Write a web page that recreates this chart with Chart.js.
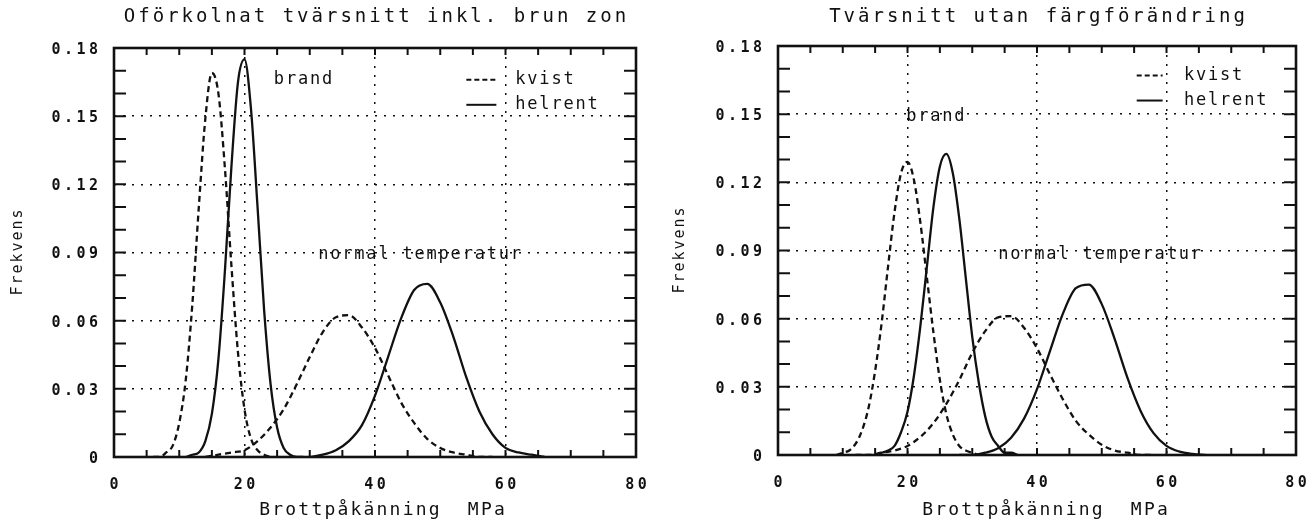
<!DOCTYPE html>
<html>
<head>
<meta charset="utf-8">
<script src="https://cdn.jsdelivr.net/npm/chart.js@4.4.1/dist/chart.umd.min.js"></script>
<style>
  html, body { margin: 0; padding: 0; background: #fff; }
  .panel { position: absolute; top: 0; height: 525px; }
</style>
</head>
<body>
<div class="panel" style="left:0;width:653px"><canvas id="leftChart" width="653" height="525"></canvas></div>
<div class="panel" style="left:653px;width:654px"><canvas id="rightChart" width="654" height="525"></canvas></div>
<script>
// tick labels
const xTickValues = [0, 20, 40, 60, 80];
const xTickLabels = ['0', '20', '40', '60', '80'];
const yTickValues = [0, 0.03, 0.06, 0.09, 0.12, 0.15, 0.18];
const yTickLabels = ['0', '0.03', '0.06', '0.09', '0.12', '0.15', '0.18'];

// left: Oförkolnat tvärsnitt inkl. brun zon
const leftKvistBrandX = [6, 7, 8, 9, 10, 11, 12, 13, 14, 15, 16, 17, 18, 19, 20, 21, 22, 23, 24];
const leftKvistBrandY = [0.000, 0.000, 0.002, 0.005, 0.015, 0.034, 0.067, 0.110, 0.149, 0.169, 0.160, 0.127, 0.084, 0.046, 0.021, 0.008, 0.003, 0.001, 0.000];
const leftHelrentBrandX = [11, 12, 13, 14, 15, 16, 17, 18, 19, 20, 21, 22, 23, 24, 25, 26, 27, 28, 29];
const leftHelrentBrandY = [0.000, 0.001, 0.002, 0.007, 0.019, 0.043, 0.082, 0.128, 0.165, 0.175, 0.153, 0.110, 0.065, 0.032, 0.013, 0.004, 0.001, 0.000, 0.000];
const leftKvistNormalX = [14, 16, 18, 20, 22, 24, 26, 28, 30, 32, 34, 36, 38, 40, 42, 44, 46, 48, 50, 52, 54, 56, 58];
const leftKvistNormalY = [0.000, 0.001, 0.002, 0.003, 0.007, 0.013, 0.021, 0.032, 0.044, 0.055, 0.0615, 0.0624, 0.057, 0.048, 0.036, 0.024, 0.015, 0.008, 0.004, 0.002, 0.001, 0.000, 0.000];
const leftHelrentNormalX = [30, 32, 34, 36, 38, 40, 42, 44, 46, 48, 50, 52, 54, 56, 58, 60, 62, 64, 66];
const leftHelrentNormalY = [0.000, 0.001, 0.003, 0.007, 0.014, 0.027, 0.044, 0.061, 0.0735, 0.0762, 0.068, 0.053, 0.035, 0.020, 0.010, 0.004, 0.002, 0.001, 0.000];

// right: Tvärsnitt utan färgförändring
const rightKvistBrandX = [9, 10, 11, 12, 13, 14, 15, 16, 17, 18, 19, 20, 21, 22, 23, 24, 25, 26, 27, 28, 29, 30, 31];
const rightKvistBrandY = [0.000, 0.001, 0.002, 0.005, 0.011, 0.021, 0.037, 0.058, 0.083, 0.107, 0.124, 0.129, 0.121, 0.102, 0.078, 0.054, 0.033, 0.018, 0.009, 0.004, 0.002, 0.001, 0.000];
const rightHelrentBrandX = [15, 16, 17, 18, 19, 20, 21, 22, 23, 24, 25, 26, 27, 28, 29, 30, 31, 32, 33, 34, 35, 36, 37];
const rightHelrentBrandY = [0.000, 0.001, 0.002, 0.004, 0.010, 0.019, 0.035, 0.057, 0.083, 0.109, 0.127, 0.1325, 0.124, 0.104, 0.078, 0.052, 0.032, 0.017, 0.008, 0.004, 0.001, 0.001, 0.000];
const rightKvistNormalX = [12, 14, 16, 18, 20, 22, 24, 26, 28, 30, 32, 34, 36, 38, 40, 42, 44, 46, 48, 50, 52, 54, 56, 58];
const rightKvistNormalY = [0.000, 0.000, 0.001, 0.002, 0.004, 0.008, 0.014, 0.0225, 0.033, 0.045, 0.0545, 0.0606, 0.0611, 0.056, 0.047, 0.0355, 0.0245, 0.015, 0.009, 0.0045, 0.002, 0.001, 0.000, 0.000];
const rightHelrentNormalX = [28, 30, 32, 34, 36, 38, 40, 42, 44, 46, 48, 50, 52, 54, 56, 58, 60, 62, 64, 66];
const rightHelrentNormalY = [0.000, 0.000, 0.001, 0.003, 0.0076, 0.016, 0.029, 0.0457, 0.0622, 0.0734, 0.075, 0.0664, 0.051, 0.0337, 0.0194, 0.0096, 0.004, 0.0015, 0.0005, 0.000];

const ink = '#111';
const mono = '"DejaVu Sans Mono", "Liberation Mono", monospace';

const toPoints = (xs, ys) => xs.map((x, i) => ({ x: x, y: ys[i] }));

const curve = (xs, ys, dashed) => ({
    data: toPoints(xs, ys),
    borderColor: ink,
    borderWidth: 2.3,
    borderDash: dashed ? [6, 4] : [],
    pointRadius: 0,
    fill: false,
    cubicInterpolationMode: 'monotone'
});

const drawText = (ctx, s, x, y, size, spacing, align, bold) => {
    ctx.font = (bold ? 'bold ' : '') + size + 'px ' + mono;
    ctx.letterSpacing = spacing + 'px';
    ctx.textAlign = align;
    ctx.textBaseline = 'middle';
    let dx = 0;
    if (align === 'center') dx = spacing / 2;
    if (align === 'right') dx = spacing;
    ctx.fillText(s, x + dx, y);
};

// frame, inward ticks and all the lettering
const framePlugin = {
    id: 'frame',
    afterDraw(chart, args, opts) {
        const { ctx, chartArea: a, scales: { x, y } } = chart;
        ctx.save();
        ctx.strokeStyle = ink;
        ctx.fillStyle = ink;
        ctx.setLineDash([]);

        ctx.lineWidth = 2;
        ctx.beginPath();
        for (let v = x.min; v <= x.max; v += 5) {
            const px = x.getPixelForValue(v);
            ctx.moveTo(px, a.bottom); ctx.lineTo(px, a.bottom - 7);
            ctx.moveTo(px, a.top); ctx.lineTo(px, a.top + 7);
        }
        for (let i = 0; i <= 18; i++) {
            const py = y.getPixelForValue(i / 100);
            ctx.moveTo(a.left, py); ctx.lineTo(a.left + 12, py);
            ctx.moveTo(a.right, py); ctx.lineTo(a.right - 12, py);
        }
        ctx.stroke();

        ctx.lineWidth = 2.6;
        ctx.strokeRect(a.left, a.top, a.right - a.left, a.bottom - a.top);

        // tick labels
        xTickValues.forEach((v, i) => drawText(ctx, xTickLabels[i], x.getPixelForValue(v), opts.xLabelY, 15, 3.5, 'center', true));
        yTickValues.forEach((v, i) => drawText(ctx, yTickLabels[i], opts.yLabelRight, y.getPixelForValue(v) + 2, 15, 3.5, 'right', true));

        // titles
        drawText(ctx, opts.title, (a.left + a.right) / 2, opts.titleY, 19, 3, 'center', false);
        drawText(ctx, 'Brottpåkänning  MPa', opts.xTitleX, opts.xTitleY, 18, 2.2, 'center', false);
        ctx.save();
        ctx.translate(opts.yTitleX, (a.top + a.bottom) / 2);
        ctx.rotate(-Math.PI / 2);
        drawText(ctx, 'Frekvens', 0, 0, 15, 2, 'center', false);
        ctx.restore();

        // notes inside the plot
        opts.notes.forEach(n => drawText(ctx, n.text, x.getPixelForValue(n.x), y.getPixelForValue(n.y), 17, 1.8, 'left', false));

        // legend
        const lg = opts.legend;
        [['kvist', true, lg.y1], ['helrent', false, lg.y2]].forEach(([label, dashed, yv]) => {
            const py = y.getPixelForValue(yv);
            ctx.lineWidth = 2;
            ctx.setLineDash(dashed ? [5, 3] : []);
            ctx.beginPath();
            ctx.moveTo(x.getPixelForValue(lg.x0), py);
            ctx.lineTo(x.getPixelForValue(lg.x1), py);
            ctx.stroke();
            ctx.setLineDash([]);
            drawText(ctx, label, x.getPixelForValue(lg.tx), py, 17, 1.8, 'left', false);
        });
        ctx.restore();
    }
};

const makeChart = (id, datasets, padding, frameOpts) => new Chart(document.getElementById(id), {
    type: 'line',
    data: { datasets: datasets },
    options: {
        responsive: false,
        animation: false,
        layout: { padding: padding },
        plugins: { legend: { display: false }, tooltip: { enabled: false }, frame: frameOpts },
        scales: {
            x: {
                type: 'linear', min: 0, max: 80,
                ticks: { display: false, stepSize: 20 },
                grid: {
                    drawTicks: false, lineWidth: 1.5,
                    color: c => (c.tick && c.tick.value > 0 && c.tick.value < 80) ? ink : 'transparent'
                },
                border: { display: false, dash: [2, 7] }
            },
            y: {
                min: 0, max: 0.18,
                ticks: { display: false, stepSize: 0.03 },
                grid: {
                    drawTicks: false, lineWidth: 1.5,
                    color: c => (c.tick && c.tick.value > 0.001 && c.tick.value < 0.179) ? ink : 'transparent'
                },
                border: { display: false, dash: [2, 7] }
            }
        }
    },
    plugins: [framePlugin]
});

makeChart('leftChart', [
    curve(leftKvistBrandX, leftKvistBrandY, true),
    curve(leftHelrentBrandX, leftHelrentBrandY, false),
    curve(leftKvistNormalX, leftKvistNormalY, true),
    curve(leftHelrentNormalX, leftHelrentNormalY, false)
], { left: 114, right: 17, top: 48, bottom: 68 }, {
    title: 'Oförkolnat tvärsnitt inkl. brun zon',
    titleY: 17, xLabelY: 485, yLabelRight: 98, xTitleX: 382, xTitleY: 510, yTitleX: 18,
    notes: [
        { text: 'brand', x: 24.5, y: 0.166 },
        { text: 'normal temperatur', x: 31.3, y: 0.089 }
    ],
    legend: { x0: 54, x1: 58.6, tx: 61.5, y1: 0.166, y2: 0.155 }
});

makeChart('rightChart', [
    curve(rightKvistBrandX, rightKvistBrandY, true),
    curve(rightHelrentBrandX, rightHelrentBrandY, false),
    curve(rightKvistNormalX, rightKvistNormalY, true),
    curve(rightHelrentNormalX, rightHelrentNormalY, false)
], { left: 125, right: 11, top: 46, bottom: 70 }, {
    title: 'Tvärsnitt utan färgförändring',
    titleY: 17, xLabelY: 483, yLabelRight: 109, xTitleX: 392, xTitleY: 510, yTitleX: 27,
    notes: [
        { text: 'brand', x: 19.8, y: 0.149 },
        { text: 'normal temperatur', x: 34, y: 0.088 }
    ],
    legend: { x0: 55.4, x1: 59.4, tx: 62.7, y1: 0.167, y2: 0.156 }
});
</script>
</body>
</html>
